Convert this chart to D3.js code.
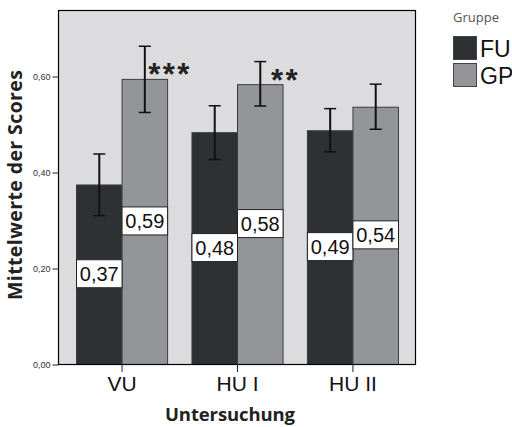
<!DOCTYPE html>
<html>
<head>
<meta charset="utf-8">
<script src="https://cdn.jsdelivr.net/npm/d3@7"></script>
<style>
  body { margin: 0; background: #fff; }
  svg { display: block; }
</style>
</head>
<body>
<svg id="chart" width="512" height="427"></svg>
<script>
// data
const categories = ['VU', 'HU I', 'HU II'];
const groups = ['FU', 'GP'];
const fuMeans = [0.374, 0.483, 0.487];
const gpMeans = [0.594, 0.583, 0.536];
const fuLow = [0.309, 0.426, 0.442];
const fuHigh = [0.4375, 0.538, 0.532];
const gpLow = [0.524, 0.5375, 0.489];
const gpHigh = [0.662, 0.630, 0.583];
const fuLabels = ['0,37', '0,48', '0,49'];
const gpLabels = ['0,59', '0,58', '0,54'];
const significance = ['***', '**', ''];
const yTicks = [0, 0.2, 0.4, 0.6];

const colors = { FU: '#2e3134', GP: '#939598' };
const margin = { left: 58, right: 96, top: 10, bottom: 63 };
const width = 512, height = 427;
const plotW = width - margin.left - margin.right;
const plotH = height - margin.top - margin.bottom;

const svg = d3.select('#chart');

// build rows from the arrays
const rows = [];
categories.forEach((c, i) => {
  rows.push({ cat: c, group: 'FU', mean: fuMeans[i], lo: fuLow[i], hi: fuHigh[i], label: fuLabels[i] });
  rows.push({ cat: c, group: 'GP', mean: gpMeans[i], lo: gpLow[i], hi: gpHigh[i], label: gpLabels[i] });
});

const x = d3.scaleBand().domain(categories).range([margin.left, margin.left + plotW])
  .paddingInner(0.211).paddingOuter(0.156);
const xInner = d3.scaleBand().domain(groups).range([0, x.bandwidth()]);
const y = d3.scaleLinear().domain([0, 0.7375]).range([margin.top + plotH, margin.top]);

// plot background
svg.append('rect')
  .attr('x', margin.left).attr('y', margin.top)
  .attr('width', plotW).attr('height', plotH)
  .attr('fill', '#dcdcde');

// bars
svg.append('g').selectAll('rect')
  .data(rows)
  .enter()
  .append('rect')
  .attr('x', d => x(d.cat) + xInner(d.group) + 0.5)
  .attr('y', d => y(d.mean) + 0.5)
  .attr('width', xInner.bandwidth())
  .attr('height', d => y(0) - y(d.mean))
  .attr('fill', d => colors[d.group])
  .attr('stroke', '#3a3c3e')
  .attr('stroke-width', 1);

// value labels in white boxes, at half the bar height
const lab = svg.append('g').selectAll('g')
  .data(rows)
  .enter()
  .append('g')
  .attr('transform', d => `translate(${x(d.cat) + xInner(d.group)},${y(d.mean / 2)})`);
lab.append('rect')
  .attr('x', 0.5).attr('y', -14.5)
  .attr('width', xInner.bandwidth()).attr('height', 28)
  .attr('fill', '#fff').attr('stroke', '#222').attr('stroke-width', 1);
lab.append('text')
  .attr('x', xInner.bandwidth() / 2 + 0.5)
  .attr('y', 7)
  .attr('text-anchor', 'middle')
  .attr('font-family', 'Liberation Sans, Arial, sans-serif')
  .attr('font-size', 20)
  .attr('fill', '#111')
  .text(d => d.label);

// error bars
const err = svg.append('g').attr('stroke', '#111');
const cx = d => x(d.cat) + xInner(d.group) + xInner.bandwidth() / 2 + 0.5;
err.selectAll('line.v').data(rows).enter().append('line')
  .attr('x1', cx).attr('x2', cx)
  .attr('y1', d => y(d.lo)).attr('y2', d => y(d.hi))
  .attr('stroke-width', 2);
['lo', 'hi'].forEach(k => {
  err.selectAll('line.' + k).data(rows).enter().append('line')
    .attr('x1', d => cx(d) - 6).attr('x2', d => cx(d) + 6)
    .attr('y1', d => y(d[k])).attr('y2', d => y(d[k]))
    .attr('stroke-width', 1.5);
});

// significance stars above the GP bars
svg.append('g').selectAll('text')
  .data(categories)
  .enter()
  .append('text')
  .attr('x', (c, i) => x(c) + xInner('GP') + xInner.bandwidth() + 3)
  .attr('y', (c, i) => y(gpMeans[i]) - 12)
  .attr('dy', '0.6em')
  .attr('text-anchor', 'middle')
  .attr('font-family', 'Liberation Sans, Arial, sans-serif')
  .attr('font-weight', 'bold')
  .attr('font-size', 31)
  .attr('letter-spacing', 2.5)
  .attr('fill', '#222')
  .text((c, i) => significance[i]);

// frame
svg.append('rect')
  .attr('x', margin.left + 0.5).attr('y', margin.top + 0.5)
  .attr('width', plotW - 1).attr('height', plotH)
  .attr('fill', 'none').attr('stroke', '#000').attr('stroke-width', 1.2);

// axes
const xAxis = svg.append('g')
  .attr('transform', `translate(0.5,${margin.top + plotH})`)
  .call(d3.axisBottom(x).tickSizeInner(8).tickSizeOuter(0).tickPadding(4));
xAxis.select('.domain').remove();
xAxis.selectAll('line').attr('stroke', '#222');
xAxis.selectAll('text')
  .attr('font-family', 'Liberation Sans, Arial, sans-serif')
  .attr('font-size', 21)
  .attr('fill', '#111');

const yAxis = svg.append('g')
  .attr('transform', `translate(${margin.left + 0.5},0.5)`)
  .call(d3.axisLeft(y).tickValues(yTicks).tickSizeInner(6).tickSizeOuter(0).tickPadding(2)
    .tickFormat(d => d3.format('.2f')(d).replace('.', ',')));
yAxis.select('.domain').remove();
yAxis.selectAll('line').attr('stroke', '#222');
yAxis.selectAll('text')
  .attr('font-family', 'Liberation Sans, Arial, sans-serif')
  .attr('font-size', 9)
  .attr('fill', '#333');

// axis titles
svg.append('text')
  .attr('x', 230)
  .attr('y', 421)
  .attr('text-anchor', 'middle')
  .attr('font-family', 'Open Sans, sans-serif')
  .attr('font-weight', 'bold')
  .attr('font-size', 18.5)
  .attr('textLength', 130)
  .attr('lengthAdjust', 'spacing')
  .attr('fill', '#222')
  .text('Untersuchung');

svg.append('text')
  .attr('transform', 'translate(22,185) rotate(-90)')
  .attr('text-anchor', 'middle')
  .attr('font-family', 'Open Sans, sans-serif')
  .attr('font-weight', 'bold')
  .attr('font-size', 19.5)
  .attr('textLength', 230)
  .attr('lengthAdjust', 'spacing')
  .attr('fill', '#222')
  .text('Mittelwerte der Scores');

// legend
const legend = svg.append('g').attr('transform', 'translate(453,0)');
legend.append('text')
  .attr('x', 0).attr('y', 22)
  .attr('font-family', 'Open Sans, sans-serif')
  .attr('font-size', 13)
  .attr('fill', '#555')
  .text('Gruppe');
const li = legend.selectAll('g.item')
  .data(groups)
  .enter()
  .append('g')
  .attr('transform', (g, i) => `translate(0,${36 + i * 27})`);
li.append('rect')
  .attr('x', 0.5).attr('y', 0.5)
  .attr('width', 23).attr('height', 23)
  .attr('fill', g => colors[g])
  .attr('stroke', '#444');
li.append('text')
  .attr('x', 27).attr('y', 20.5)
  .attr('font-family', 'Liberation Sans, Arial, sans-serif')
  .attr('font-size', 23)
  .attr('fill', '#111')
  .text(g => g);
</script>
</body>
</html>
